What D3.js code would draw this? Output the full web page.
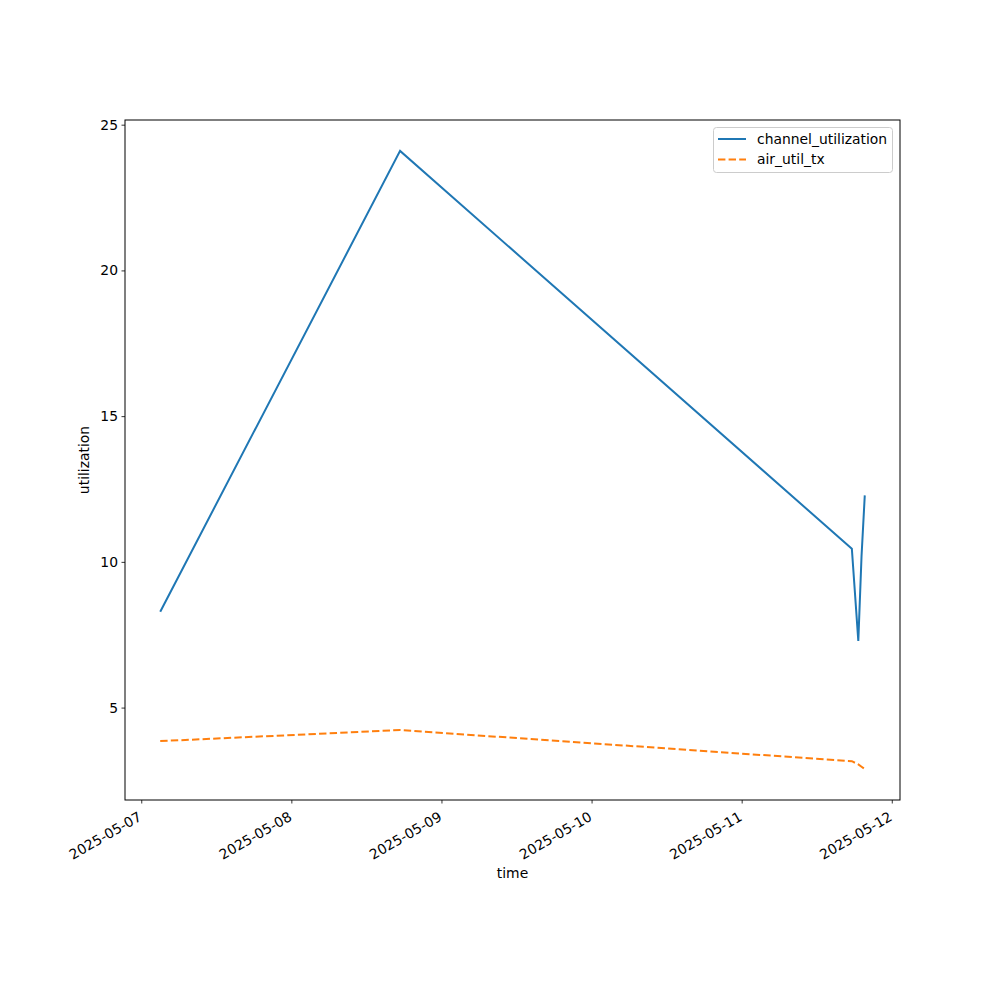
<!DOCTYPE html>
<html><head><meta charset="utf-8">
<script src="https://cdn.jsdelivr.net/npm/d3@7"></script>
<style>body{margin:0;background:#fff}svg{display:block}text{font-family:"DejaVu Sans",sans-serif}</style>
</head><body>
<svg id="c" width="1000" height="1000"></svg>
<script>
const times = ["2025-05-07T03:02:00Z","2025-05-08T17:23:00Z","2025-05-11T17:37:00Z","2025-05-11T18:39:00Z","2025-05-11T19:10:00Z","2025-05-11T19:41:00Z"];
const channelUtil = [8.29, 24.1, 10.45, 7.29, 10.2, 12.28];
const airUtilTx = [3.85, 4.23, 3.16, 3.05, 2.97, 2.89];
const xTickLabels = ["2025-05-07","2025-05-08","2025-05-09","2025-05-10","2025-05-11","2025-05-12"];
const yTicks = [5,10,15,20,25];
const seriesNames = ["channel_utilization","air_util_tx"];
const colors = ["#1f77b4","#ff7f0e"];

const FS="13.9px";
const L=125,R=900,T=120,B=800;
const svg=d3.select("#c");
const dates=times.map(t=>new Date(t));
const x0=d3.min(dates),x1=d3.max(dates),px=(x1-x0)*0.05;
const x=d3.scaleUtc().domain([new Date(+x0-px),new Date(+x1+px)]).range([L,R]);
const all=channelUtil.concat(airUtilTx);
const y0=d3.min(all),y1=d3.max(all),py=(y1-y0)*0.05;
const y=d3.scaleLinear().domain([y0-py,y1+py]).range([B,T]);

const tickDates=xTickLabels.map(s=>new Date(s+"T00:00:00Z"));
const gx=svg.append("g").attr("transform",`translate(0,${B})`)
  .call(d3.axisBottom(x).tickValues(tickDates).tickFormat(d3.utcFormat("%Y-%m-%d")).tickSizeOuter(0).tickSize(3.5).tickPadding(3.5));
gx.select(".domain").remove();
gx.selectAll("line").attr("stroke","#000").attr("stroke-width",0.8);
gx.selectAll("text").attr("font-size",FS).attr("fill","#000")
  .attr("text-anchor","end").attr("x",-4).attr("y",11).attr("dy","0.71em")
  .attr("transform","rotate(-30,-4,11)");

const gy=svg.append("g").attr("transform",`translate(${L},0)`)
  .call(d3.axisLeft(y).tickValues(yTicks).tickSize(3.5).tickPadding(3.5).tickSizeOuter(0));
gy.select(".domain").remove();
gy.selectAll("line").attr("stroke","#000").attr("stroke-width",0.8);
gy.selectAll("text").attr("font-size",FS).attr("fill","#000");

const line=d3.line().x((d,i)=>x(dates[i])).y(d=>y(d));
svg.append("path").datum(channelUtil).attr("d",line).attr("fill","none").attr("stroke",colors[0]).attr("stroke-width",2).attr("stroke-linejoin","miter");
svg.append("path").datum(airUtilTx).attr("d",line).attr("fill","none").attr("stroke",colors[1]).attr("stroke-width",2).attr("stroke-dasharray","7.4,3.2");

svg.append("rect").attr("x",L).attr("y",T).attr("width",R-L).attr("height",B-T).attr("fill","none").attr("stroke","#000").attr("stroke-width",1);

svg.append("text").attr("x",(L+R)/2).attr("y",878).attr("text-anchor","middle").attr("font-size",FS).text("time");
svg.append("text").attr("transform",`translate(89,${(T+B)/2}) rotate(-90)`).attr("text-anchor","middle").attr("font-size",FS).text("utilization");

const lg=svg.append("g");
lg.append("rect").attr("x",713.5).attr("y",127.5).attr("width",179).attr("height",45).attr("rx",3).attr("fill","#fff").attr("fill-opacity",0.8).attr("stroke","#ccc").attr("stroke-width",1);
seriesNames.forEach((n,i)=>{
  const yy=139+i*20.5;
  lg.append("line").attr("x1",718).attr("x2",746).attr("y1",yy).attr("y2",yy).attr("stroke",colors[i]).attr("stroke-width",2).attr("stroke-dasharray",i?"7.4,3.2":null);
  lg.append("text").attr("x",757).attr("y",yy).attr("dy","0.35em").attr("font-size",FS).text(n);
});
</script>
</body></html>
